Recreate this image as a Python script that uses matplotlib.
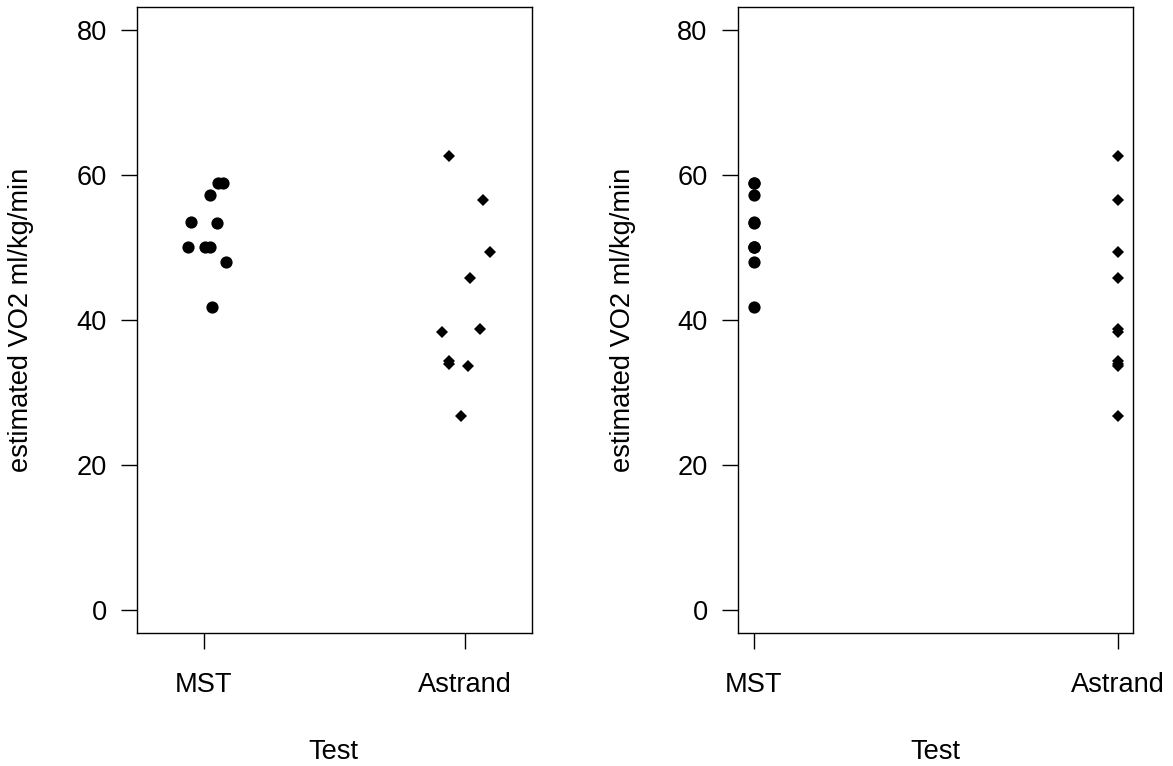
import matplotlib
matplotlib.use("Agg")
import matplotlib.pyplot as plt

plt.rcParams["font.family"] = ["Liberation Sans", "DejaVu Sans"]

# values
tests = ["MST", "Astrand"]
mst = [58.9, 58.9, 57.2, 53.5, 53.4, 50.1, 50.1, 50.1, 48.0, 41.8]
astrand = [62.6, 56.6, 49.4, 45.8, 38.4, 38.7, 34.3, 33.9, 33.7, 26.7]
# horizontal jitter used in the left panel
mst_jitter = [0.054, 0.075, 0.026, -0.047, 0.052, -0.060, 0.007, 0.026, 0.087, 0.033]
astrand_jitter = [-0.059, 0.068, 0.095, 0.018, -0.089, 0.060, -0.062, -0.062, 0.014, -0.016]
yticks = [0, 20, 40, 60, 80]

W, H = 1173, 766
fig = plt.figure(figsize=(W / 100, H / 100), dpi=100)
fs = 19.6

def make_axes(left_px, xlim):
    ax = fig.add_axes([left_px / W, 1 - 632.7 / H, 395 / W, 625.4 / H])
    ax.set_xlim(*xlim)
    ax.set_ylim(-3.2, 83.2)
    ax.set_xticks([1, 2])
    ax.set_xticklabels(tests)
    ax.set_yticks(yticks)
    for s in ax.spines.values():
        s.set_linewidth(1.0)
    ax.tick_params(axis="both", length=11.5, width=1.0, labelsize=fs)
    ax.tick_params(axis="y", pad=10)
    ax.tick_params(axis="x", pad=17)
    return ax

# left panel: jittered
ax1 = make_axes(136.7, (0.744, 2.256))
ax1.plot([1 + j for j in mst_jitter], mst, "o", color="black", ms=8.8, mew=0)
ax1.plot([2 + j for j in astrand_jitter], astrand, "D", color="black", ms=6.5, mew=0)

# right panel: stacked on the category
ax2 = make_axes(737.5, (0.955, 2.04))
ax2.plot([1] * len(mst), mst, "o", color="black", ms=8.8, mew=0)
ax2.plot([2] * len(astrand), astrand, "D", color="black", ms=6.5, mew=0)

for xc, xl in [(21.5, 333.5), (623, 935)]:
    fig.text(xc / W, 1 - 320 / H, "estimated VO2 ml/kg/min", rotation=90,
             ha="center", va="center", fontsize=fs)
    fig.text(xl / W, 1 - 759 / H, "Test", ha="center", va="baseline", fontsize=fs)

fig.savefig("out.png", dpi=100)
